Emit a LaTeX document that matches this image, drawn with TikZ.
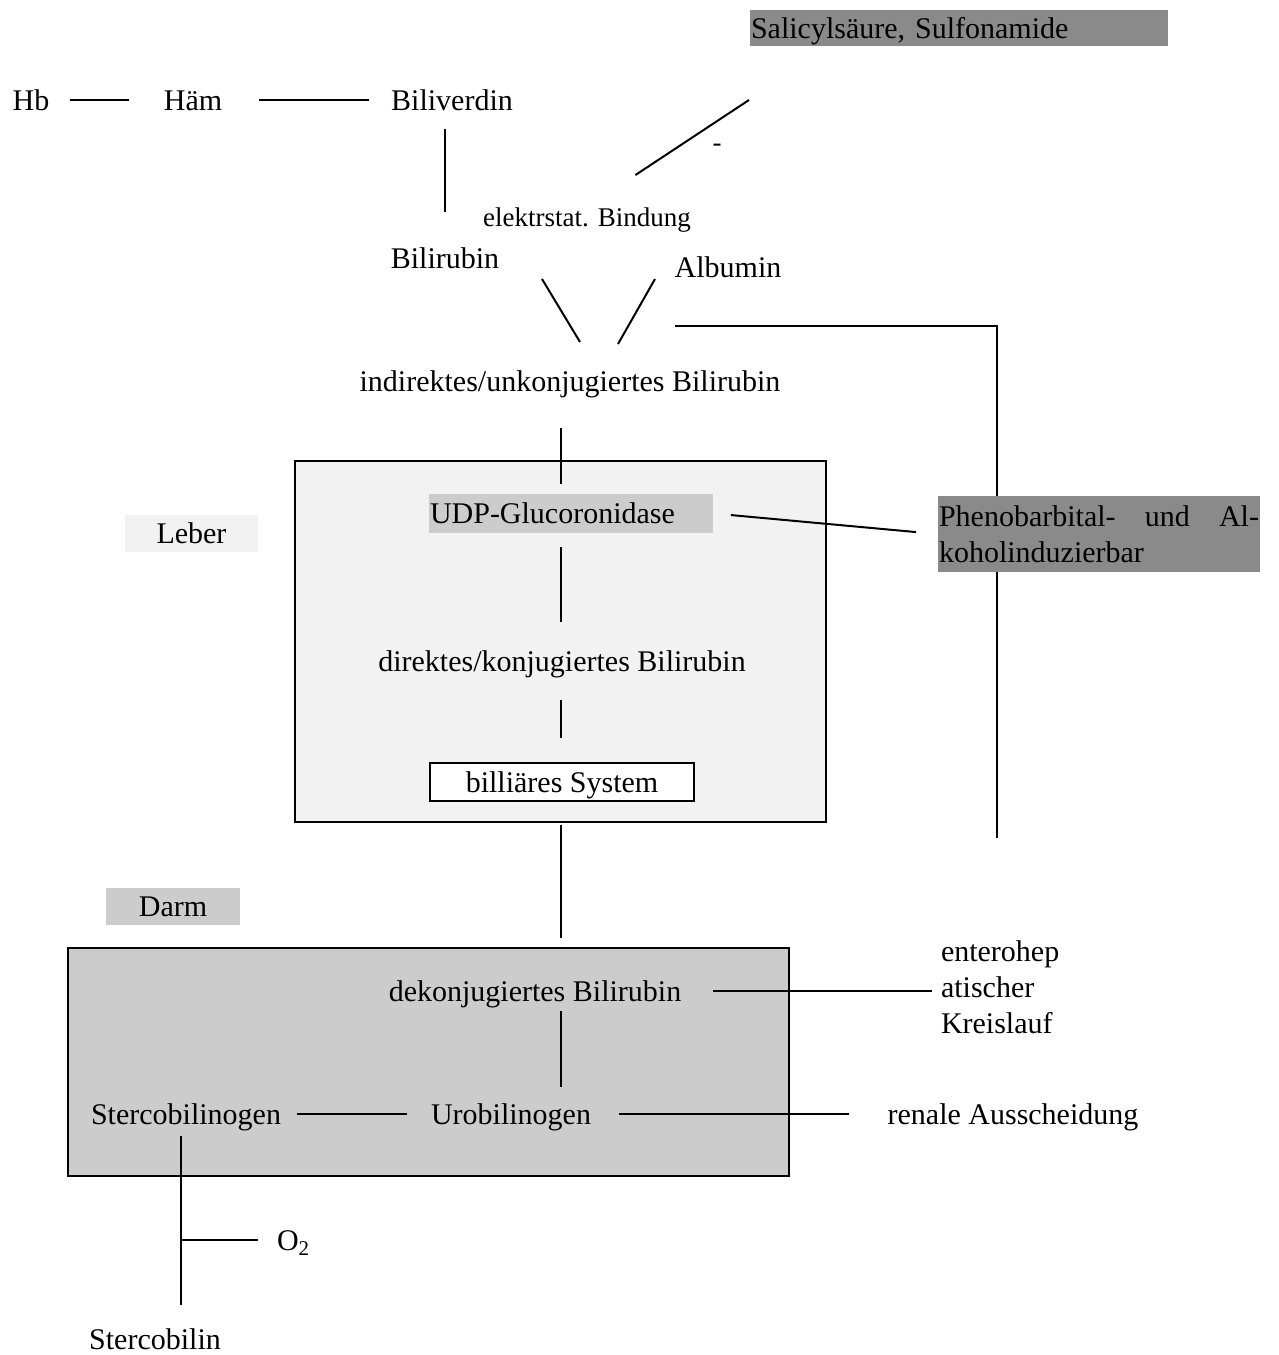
\documentclass[tikz,border=0pt]{standalone}
\usepackage{fontspec}
\setmainfont{Liberation Serif}
\usepackage{tikz}
\usetikzlibrary{positioning,calc}
\definecolor{darkshade}{gray}{0.54}
\definecolor{midshade}{gray}{0.8}
\definecolor{paleshade}{gray}{0.95}

\begin{document}
\begin{tikzpicture}[
    x=1pt, y=-1pt,
    font=\fontsize{30}{36}\selectfont,
    line width=2pt,
    word/.style={inner sep=0pt, text height=20pt, text depth=0pt},
    minor/.style={word, font=\fontsize{27}{32}\selectfont, text height=18pt},
    tinted/.style={word, fill=#1, inner xsep=1pt, minimum height=37pt},
    region/.style={draw, fill=#1, inner sep=0pt}
]
\useasboundingbox (0,0) rectangle (1279,1355);

\node[region=paleshade, minimum width=531pt, minimum height=361pt] (leber) at (560.5,641.5) {};
\node[region=midshade, minimum width=721pt, minimum height=228pt] (darm) at (428.5,1062) {};
\coordinate (axis) at (561,0);
\coordinate (sx) at (181,0);
\coordinate (bindtip) at (749,100);
\coordinate (loopend) at (997,838);

\node[tinted=darkshade, text width=416pt, minimum height=36pt, align=left] (sal) at (959,28) {Salicylsäure, Sulfonamide};
\node[word] (hb) at (31,100) {Hb};
\node[word] (haem) at (193,100) {Häm};
\node[word] (biliv) at (452,100) {Biliverdin};
\node[minor] (minus) at (717,142) {-};
\node[minor] (bind) at (587,217) {elektrstat. Bindung};
\node[word] (bilir) at (445,258) {Bilirubin};
\node[word] (album) at (728,267) {Albumin};
\node[word] (indir) at (570,381) {indirektes/unkonjugiertes Bilirubin};

\draw (loopend) |- ($(album.south west)+(1,48)$);

\node[tinted=midshade, text width=282pt, minimum height=39pt, align=left] (udp) at (571,513.5) {UDP-Glucoronidase};
\node[tinted=paleshade, minimum width=133pt] (leblab) at (191.5,533.5) {Leber};
\node[fill=darkshade, inner sep=1pt, text width=320pt, minimum height=76pt, align=left] (pheno) at (1099,534) {Phenobarbital-\hfill und\hfill Al-\\koholinduzierbar};
\node[word] (direk) at (562,661) {direktes/konjugiertes Bilirubin};
\node[word, draw, fill=white, minimum width=264pt, minimum height=38pt] (bill) at (562,782) {billiäres System};
\node[tinted=midshade, minimum width=134pt] (darmlab) at (173,906.5) {Darm};
\node[word] (dekon) at (535,991) {dekonjugiertes Bilirubin};
\node[anchor=north west, align=left, inner sep=0pt] (entero) at (940,940) {enterohep\\atischer\\Kreislauf};
\node[word] (sgen) at (186,1114) {Stercobilinogen};
\node[word] (uro) at (511,1114) {Urobilinogen};
\node[word] (renal) at (1013,1114) {renale Ausscheidung};
\node[word, anchor=west] (otwo) at (276,1240) {O\textsubscript{2}};
\node[word] (sbilin) at (155,1339) {Stercobilin};

\draw[shorten <=20pt, shorten >=34pt] (hb) -- (haem);
\draw[shorten <=36pt, shorten >=21pt] (haem) -- (biliv);
\draw[shorten <=18pt, shorten >=35pt] (bilir.north |- biliv.south) -- (bilir.north);
\draw[shorten <=58pt] (bind.north) -- (bindtip);
\draw ($(indir.north)+(-28,-91)$) -- ($(indir.north)+(10,-28)$);
\draw ($(indir.north)+(85,-91)$) -- ($(indir.north)+(48,-26)$);
\draw[shorten <=17pt, shorten >=21pt] (udp.east) -- (pheno.west);

\foreach \a/\b/\s/\e in {indir/udp/36pt/9pt, udp/direk/13pt/28pt, leber/darm/2pt/9pt, dekon/uro/9pt/16pt}
  \draw[shorten <=\s, shorten >=\e] (\a.south -| axis) -- (\b.north -| axis);
\draw[line width=2.6pt, shorten <=28pt, shorten >=24pt] (direk.south -| axis) -- (bill.north -| axis);

\draw[line width=2.6pt, shorten <=31pt, shorten >=8pt] (dekon.east) -- (dekon.east -| entero.west);
\draw[shorten <=15pt, shorten >=23pt] (sgen) -- (uro);
\draw[shorten <=27pt, shorten >=38pt] (uro) -- (renal);
\draw[shorten <=11pt, shorten >=23pt] (sgen.south -| sx) -- (sbilin.north -| sx);
\draw[shorten <=18pt] (otwo.west) -- (otwo.west -| sx);
\end{tikzpicture}
\end{document}
